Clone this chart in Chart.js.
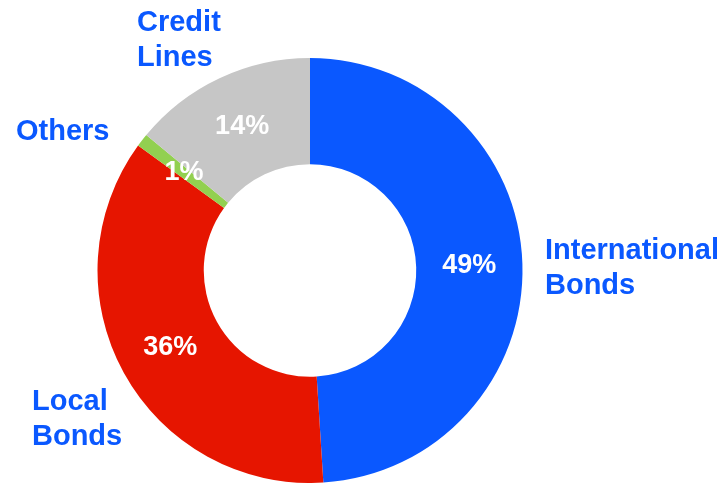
<!DOCTYPE html>
<html>
<head>
<meta charset="utf-8">
<script src="https://cdn.jsdelivr.net/npm/chart.js@4.4.0/dist/chart.umd.min.js"></script>
<style>
  html, body { margin: 0; padding: 0; background: #fff; }
  #wrap { width: 724px; height: 483px; position: relative; }
</style>
</head>
<body>
<div id="wrap"><canvas id="funding-chart"></canvas></div>
<script>
// Funding mix (share of total, %)
const categories = ['International Bonds', 'Local Bonds', 'Others', 'Credit Lines'];
const shares = [49, 36, 1, 14];
const sliceColors = ['#0A58FF', '#E61500', '#92D050', '#C6C6C6'];

// Category captions outside the ring: [left x, first line centre y, lines]
const captions = [
    { x: 545, y: 251, lines: ['International', 'Bonds'] },
    { x: 32, y: 402, lines: ['Local', 'Bonds'] },
    { x: 16, y: 132, lines: ['Others'] },
    { x: 137, y: 23, lines: ['Credit', 'Lines'] }
];

const FONT = '"Liberation Sans", Arial, sans-serif';

const ringLabels = {
    id: 'ringLabels',
    afterDatasetsDraw(chart) {
        const ctx = chart.ctx;
        const arcs = chart.getDatasetMeta(0).data;
        ctx.save();
        // percentages in the middle of each slice
        ctx.font = 'bold 27px ' + FONT;
        ctx.fillStyle = '#ffffff';
        ctx.textAlign = 'center';
        ctx.textBaseline = 'middle';
        arcs.forEach((arc, i) => {
            const p = arc.getProps(['x', 'y', 'startAngle', 'endAngle', 'innerRadius', 'outerRadius'], true);
            const mid = (p.startAngle + p.endAngle) / 2;
            const r = (p.innerRadius + p.outerRadius) / 2;
            ctx.fillText(shares[i] + '%', p.x + Math.cos(mid) * r, p.y + Math.sin(mid) * r);
        });
        // category names
        ctx.font = 'bold 29px ' + FONT;
        ctx.fillStyle = '#0A58FF';
        ctx.textAlign = 'left';
        captions.forEach(c => {
            c.lines.forEach((line, k) => ctx.fillText(line, c.x, c.y + k * 35));
        });
        ctx.restore();
    }
};

const chart = new Chart(document.getElementById('funding-chart'), {
    type: 'doughnut',
    data: {
        labels: categories,
        datasets: [{
            data: shares,
            backgroundColor: sliceColors,
            borderWidth: 0
        }]
    },
    options: {
        responsive: true,
        maintainAspectRatio: false,
        animation: false,
        cutout: '50%',
        rotation: 0,
        layout: { padding: { left: 97, right: 201, top: 58, bottom: -2 } },
        plugins: {
            legend: { display: false },
            tooltip: { enabled: false }
        }
    },
    plugins: [ringLabels]
});
</script>
</body>
</html>
